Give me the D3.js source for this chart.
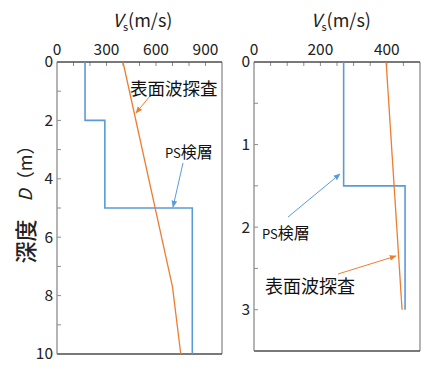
<!DOCTYPE html>
<html>
<head>
<meta charset="utf-8">
<script src="https://cdn.jsdelivr.net/npm/d3@7"></script>
<style>
  body { margin: 0; background: #fff; }
  svg { display: block; font-family: "Noto Sans CJK JP", "Noto Sans", sans-serif; }
</style>
</head>
<body>
<div id="chart"></div>
<script>
// Vs profiles: PS logging (step) vs surface wave survey (line)
const leftPsDepths = [0, 2, 5, 10];       // layer boundaries (m)
const leftPsVs = [170, 290, 820];         // Vs per layer (m/s)
const leftSwDepth = [0, 7.7, 10];
const leftSwVs = [400, 700, 750];

const rightPsDepths = [0, 1.5, 3];
const rightPsVs = [270, 455];
const rightSwDepth = [0, 3];
const rightSwVs = [398, 446];

const leftXTicks = [0, 300, 600, 900];
const leftYTicks = [0, 2, 4, 6, 8, 10];
const rightXTicks = [0, 200, 400];
const rightYTicks = [0, 1, 2, 3];

const blue = "#5b9bd5", orange = "#ed7d31";

const svg = d3.select("#chart").append("svg")
    .attr("width", 432).attr("height", 378);

function stepPoints(depths, vs) {
    const pts = [];
    vs.forEach((v, i) => {
        pts.push([v, depths[i]]);
        pts.push([v, depths[i + 1]]);
    });
    return pts;
}

function panel(opt) {
    const x = d3.scaleLinear().domain(opt.xDomain).range([opt.x0, opt.x1]);
    const y = d3.scaleLinear().domain(opt.yDomain).range([opt.y0, opt.y1]);
    const g = svg.append("g");

    // plot frame
    g.append("line").attr("x1", opt.x1).attr("x2", opt.x1).attr("y1", opt.y0).attr("y2", opt.y1)
        .attr("stroke", "#8c8c8c").attr("stroke-width", 1.3);
    g.append("line").attr("x1", opt.x0).attr("x2", opt.x1).attr("y1", opt.y1).attr("y2", opt.y1)
        .attr("stroke", "#4d4d4d").attr("stroke-width", 1.5);

    // minor ticks (inside)
    const xt = d3.range(opt.xDomain[0] + opt.xMinor, opt.xDomain[1], opt.xMinor);
    g.selectAll(".xt").data(xt).enter().append("line")
        .attr("x1", d => x(d)).attr("x2", d => x(d))
        .attr("y1", opt.y0).attr("y2", opt.y0 + 4)
        .attr("stroke", "#8c8c8c");
    const yt = d3.range(opt.yDomain[0] + opt.yMinor, opt.yDomain[1] - 1e-9, opt.yMinor);
    g.selectAll(".yt").data(yt).enter().append("line")
        .attr("y1", d => y(d)).attr("y2", d => y(d))
        .attr("x1", opt.x0).attr("x2", opt.x0 + 4)
        .attr("stroke", "#8c8c8c");

    g.append("line").attr("x1", opt.x0).attr("x2", opt.x0).attr("y1", opt.y0).attr("y2", opt.y1)
        .attr("stroke", "#8c8c8c").attr("stroke-width", 1.3);
    g.append("line").attr("x1", opt.x0).attr("x2", opt.x1).attr("y1", opt.y0).attr("y2", opt.y0)
        .attr("stroke", "#4d4d4d").attr("stroke-width", 1.5);

    // tick labels
    g.selectAll(".xl").data(opt.xTicks).enter().append("text")
        .attr("x", d => x(d)).attr("y", opt.y0 - 7)
        .attr("text-anchor", "middle").attr("font-size", 15.5).attr("fill", "#222")
        .text(d => d);
    g.selectAll(".yl").data(opt.yTicks).enter().append("text")
        .attr("x", opt.x0 - 4).attr("y", d => y(d)).attr("dy", "0.35em")
        .attr("text-anchor", "end").attr("font-size", 15.5).attr("fill", "#222")
        .text(d => d);

    // title
    const t = g.append("text").attr("x", (opt.x0 + opt.x1) / 2 + opt.titleDx).attr("y", 27)
        .attr("text-anchor", "middle").attr("font-size", 18).attr("fill", "#222");
    t.append("tspan").attr("font-style", "italic").text("V");
    t.append("tspan").attr("font-size", 11).attr("dy", 4).text("s");
    t.append("tspan").attr("dy", -4).text("(m/s)");

    const line = d3.line().x(d => x(d[0])).y(d => y(d[1]));

    g.append("path").datum(stepPoints(opt.psDepths, opt.psVs))
        .attr("fill", "none").attr("stroke", blue).attr("stroke-width", 1.6)
        .attr("d", line);
    g.append("path").datum(opt.swVs.map((v, i) => [v, opt.swDepth[i]]))
        .attr("fill", "none").attr("stroke", orange).attr("stroke-width", 1.3)
        .attr("d", line);

    return g;
}

panel({
    x0: 57, x1: 222, y0: 62, y1: 354,
    xDomain: [0, 1000], yDomain: [0, 10], xMinor: 100, yMinor: 1,
    xTicks: leftXTicks, yTicks: leftYTicks, titleDx: 3,
    psDepths: leftPsDepths, psVs: leftPsVs, swDepth: leftSwDepth, swVs: leftSwVs
});
panel({
    x0: 254, x1: 420, y0: 62, y1: 351,
    xDomain: [0, 500], yDomain: [0, 3.5], xMinor: 50, yMinor: 0.5,
    xTicks: rightXTicks, yTicks: rightYTicks, titleDx: 4,
    psDepths: rightPsDepths, psVs: rightPsVs, swDepth: rightSwDepth, swVs: rightSwVs
});

// arrow markers
const defs = svg.append("defs");
[["ab", blue], ["ao", orange]].forEach(([id, c]) => {
    defs.append("marker").attr("id", id).attr("viewBox", "0 0 10 10")
        .attr("refX", 9).attr("refY", 5).attr("markerWidth", 7).attr("markerHeight", 7)
        .attr("orient", "auto")
        .append("path").attr("d", "M0,1L10,5L0,9Z").attr("fill", c);
});

function note(text, tx, ty, size, ax1, ay1, ax2, ay2, color, marker) {
    svg.append("line").attr("x1", ax1).attr("y1", ay1).attr("x2", ax2).attr("y2", ay2)
        .attr("stroke", color).attr("stroke-width", 1).attr("marker-end", `url(#${marker})`);
    const t = svg.append("text").attr("x", tx).attr("y", ty).attr("font-size", size)
        .attr("fill", "#111");
    if (text.startsWith("PS")) {
        t.append("tspan").attr("font-size", size - 3).text("PS");
        t.append("tspan").text(text.slice(2));
    } else {
        t.text(text);
    }
}

note("表面波探査", 130, 95, 17.5, 150, 96, 136, 113, orange, "ao");
note("PS検層", 165, 158, 16, 183, 163, 173, 207, blue, "ab");
note("PS検層", 262, 239, 16, 288, 217, 340, 174, blue, "ab");
note("表面波探査", 265, 293, 18, 338, 274, 396, 256, orange, "ao");

// y axis label
const yl = svg.append("text").attr("transform", "translate(24,200) rotate(-90)")
    .attr("text-anchor", "middle").attr("dominant-baseline", "central")
    .attr("font-size", 18).attr("fill", "#222");
yl.append("tspan").attr("font-size", 22).attr("font-weight", 500).text("深度");
yl.append("tspan").text("　");
yl.append("tspan").attr("font-style", "italic").text("D");
yl.append("tspan").text("（m）");
</script>
</body>
</html>
